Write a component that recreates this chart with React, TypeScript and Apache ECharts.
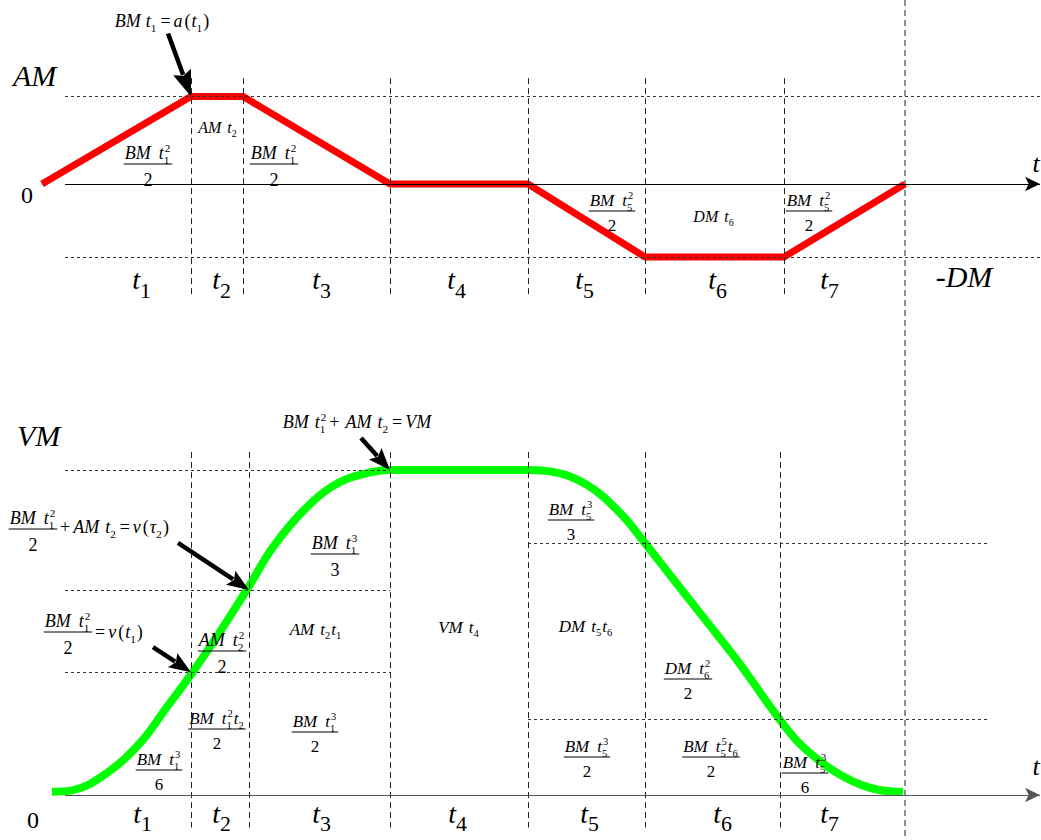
import React, { useEffect, useRef } from 'react';
import * as echarts from 'echarts';

const FONT = 'Liberation Serif';

// Jerk-limited motion profile. Time in ms, measured from the start of phase t1.
const accelTime = [0, 149, 201, 348, 486, 603, 742, 863];
// Acceleration levels, scaled so that the deceleration limit DM = 1
const accelValue = [0, 1.2, 1.2, 0, 0, -1, -1, 0];
const AM = 1.2;
const DM = 1.0;

// Velocity samples, normalised so that VM = 1
const velTime = [10, 31, 65, 98, 125, 150, 178, 206, 231, 265, 298, 331, 348, 486, 511, 545, 578, 603, 628, 661, 695, 738, 761, 795, 828, 861];
const velValue = [0.01, 0.015, 0.068, 0.16, 0.271, 0.375, 0.502, 0.637, 0.763, 0.886, 0.963, 0.994, 1, 1, 0.994, 0.954, 0.868, 0.775, 0.677, 0.548, 0.415, 0.231, 0.148, 0.068, 0.022, 0.009];
const VM = 1;

// Phase boundaries drawn as dashed guides in each panel
const accelBounds = [149, 201, 348, 486, 603, 742];
const velBounds = [149, 207, 348, 486, 603, 738];
const profileEnd = 863;
const axisStart = 23;
const axisEnd = 998;

// Velocity reached at the phase boundaries
const vAtT1 = 0.378;
const vAtTau2 = 0.631;
const vAtT5 = 0.775;
const vAtT6 = 0.234;

// Phase names under each panel
const phaseNames = ['1', '2', '3', '4', '5', '6', '7'];

type Tok = { s: string; it?: boolean; sub?: string; sup?: string; gl?: number; gr?: number };
const I = (s: string, o: Partial<Tok> = {}): Tok => ({ s, it: true, ...o });
const R = (s: string, o: Partial<Tok> = {}): Tok => ({ s, it: false, gl: 3, gr: 3, ...o });
// coefficient followed by a scripted t, e.g. "BM t₁²"
const K = (coef: string, sub: string, sup?: string, gap = 8): Tok[] => [I(coef), I('t', { gl: gap, sub, sup })];

let measureCtx: CanvasRenderingContext2D | null = null;
function textWidth(s: string, size: number, italic: boolean) {
  if (!measureCtx) measureCtx = document.createElement('canvas').getContext('2d');
  measureCtx!.font = `${italic ? 'italic ' : ''}${size}px "${FONT}"`;
  return measureCtx!.measureText(s).width;
}

function textEl(s: string, x: number, base: number, size: number, italic: boolean) {
  return {
    type: 'text',
    x,
    y: base - 0.33 * size,
    silent: true,
    z: 10,
    style: {
      text: s,
      fontSize: size,
      fontFamily: FONT,
      fontStyle: italic ? 'italic' : 'normal',
      fill: '#000',
      align: 'left',
      verticalAlign: 'middle',
      textAlign: 'left',
      textVerticalAlign: 'middle',
    },
  };
}

type RowOpts = { ratio?: number; drop?: number; anchor?: 'left' | 'center' };

function layoutRow(toks: Tok[], F: number, opts: RowOpts) {
  const S = F * (opts.ratio ?? 0.62);
  const drop = opts.drop ?? 0.25;
  const items: { s: string; dx: number; dy: number; size: number; it: boolean }[] = [];
  let x = 0;
  for (const t of toks) {
    x += t.gl ?? 0;
    items.push({ s: t.s, dx: x, dy: 0, size: F, it: !!t.it });
    x += textWidth(t.s, F, !!t.it);
    if (t.sub || t.sup) {
      let sw = 0;
      if (t.sup) {
        items.push({ s: t.sup, dx: x + 1, dy: -0.42 * F, size: S, it: false });
        sw = Math.max(sw, textWidth(t.sup, S, false) + 1);
      }
      if (t.sub) {
        items.push({ s: t.sub, dx: x, dy: drop * F, size: S, it: false });
        sw = Math.max(sw, textWidth(t.sub, S, false));
      }
      x += sw + 1;
    }
    x += t.gr ?? 0;
  }
  return { items, width: x };
}

function row(toks: Tok[], x: number, base: number, F: number, opts: RowOpts = {}) {
  const { items, width } = layoutRow(toks, F, opts);
  const x0 = (opts.anchor ?? 'center') === 'center' ? x - width / 2 : x;
  return items.map((it) => textEl(it.s, x0 + it.dx, base + it.dy, it.size, it.it));
}

function frac(cx: number, lineY: number, num: Tok[], den: string, F: number) {
  const { width } = layoutRow(num, F, {});
  const els: any[] = row(num, cx, lineY - 0.28 * F, F);
  els.push({
    type: 'line',
    silent: true,
    z: 10,
    shape: { x1: cx - width / 2 - 1, y1: lineY, x2: cx + width / 2 + 1, y2: lineY },
    style: { stroke: '#000', lineWidth: 1 },
  });
  els.push(...row([R(den, { gl: 0, gr: 0 })], cx, lineY + 1.2 * F, F));
  return els;
}

function arrow(tip: number[], back: number[], head = 22, half = 8.5) {
  const [x2, y2] = tip;
  const x1 = x2 + back[0];
  const y1 = y2 + back[1];
  const L = Math.hypot(x2 - x1, y2 - y1);
  const ux = (x2 - x1) / L;
  const uy = (y2 - y1) / L;
  const bx = x2 - ux * head;
  const by = y2 - uy * head;
  return [
    {
      type: 'line',
      silent: true,
      z: 11,
      shape: { x1, y1, x2: bx + ux * 3, y2: by + uy * 3 },
      style: { stroke: '#000', lineWidth: 4.5 },
    },
    {
      type: 'polygon',
      silent: true,
      z: 11,
      shape: {
        points: [
          [x2, y2],
          [bx - uy * half, by + ux * half],
          [bx + ux * 4, by + uy * 4],
          [bx + uy * half, by - ux * half],
        ],
      },
      style: { fill: '#000' },
    },
  ];
}

function buildOption(): any {
  const hDash = { type: [3, 3], color: '#333', width: 1 };
  const vDash = { type: [6, 4], color: '#222', width: 1 };
  const seg = (a: number[], b: number[], lineStyle: any) => [{ coord: a, lineStyle }, { coord: b }];

  const topGuides = [
    seg([axisStart, AM], [axisEnd, AM], hDash),
    seg([axisStart, -DM], [axisEnd, -DM], hDash),
    ...accelBounds.map((t) => seg([t, 1.45], [t, -1.52], vDash)),
  ];
  const bottomGuides = [
    ...[VM, vAtTau2, vAtT1].map((v) => seg([axisStart, v], [velBounds[2], v], hDash)),
    ...[vAtT5, vAtT6].map((v) => seg([velBounds[3], v], [axisEnd - 50, v], hDash)),
    ...velBounds.map((t) => seg([t, 1.055], [t, -0.1], vDash)),
  ];
  const markBase = {
    silent: true,
    symbol: 'none',
    label: { show: false },
    animation: false,
    emphasis: { disabled: true },
  };
  const axisMark = (color: string) => ({
    ...markBase,
    symbol: ['none', 'arrow'],
    symbolSize: [11, 15],
    lineStyle: { color, width: 1.2, type: 'solid' },
    data: [[{ coord: [axisStart, 0] }, { coord: [axisEnd, 0] }]],
  });

  return {
    animation: false,
    backgroundColor: '#fff',
    grid: [
      { left: 42, top: 38, width: 998, height: 292, containLabel: false, outerBoundsMode: 'none' },
      { left: 42, top: 405, width: 998, height: 455, containLabel: false, outerBoundsMode: 'none' },
    ],
    xAxis: [
      { type: 'value', gridIndex: 0, min: 0, max: axisEnd, show: false },
      { type: 'value', gridIndex: 1, min: 0, max: axisEnd, show: false },
    ],
    yAxis: [
      { type: 'value', gridIndex: 0, min: -2, max: 2, show: false },
      { type: 'value', gridIndex: 1, min: -0.2, max: 1.2, show: false },
    ],
    series: [
      {
        name: 'guides-a', type: 'line', xAxisIndex: 0, yAxisIndex: 0, data: [], clip: false, z: 1,
        markLine: { ...markBase, data: topGuides },
      },
      {
        name: 'axis-a', type: 'line', xAxisIndex: 0, yAxisIndex: 0, data: [], clip: false, z: 2,
        markLine: axisMark('#000'),
      },
      {
        name: 'acceleration', type: 'line', xAxisIndex: 0, yAxisIndex: 0, clip: false, z: 3,
        symbol: 'none', silent: true,
        lineStyle: { color: '#ff0000', width: 7, join: 'miter', cap: 'butt' },
        data: accelTime.map((t, i) => [t, accelValue[i]]),
      },
      {
        name: 'guides-v', type: 'line', xAxisIndex: 1, yAxisIndex: 1, data: [], clip: false, z: 1,
        markLine: { ...markBase, data: bottomGuides },
      },
      {
        name: 'axis-v', type: 'line', xAxisIndex: 1, yAxisIndex: 1, data: [], clip: false, z: 2,
        markLine: axisMark('#555'),
      },
      {
        name: 'velocity', type: 'line', xAxisIndex: 1, yAxisIndex: 1, clip: false, z: 3,
        symbol: 'none', silent: true, smooth: 0.4,
        lineStyle: { color: '#00ff00', width: 8, cap: 'butt' },
        data: velTime.map((t, i) => [t, velValue[i]]),
      },
    ],
  };
}

function buildGraphic(toPx: (g: number, x: number, y: number) => number[]) {
  const g: any[] = [];
  const add = (els: any[]) => g.push(...els);

  // full-height guide at the end of the profile
  const endX = toPx(0, profileEnd, 0)[0];
  g.push({
    type: 'line', silent: true, z: 1,
    shape: { x1: endX, y1: 0, x2: endX, y2: 840 },
    style: { stroke: '#222', lineWidth: 1, lineDash: [6, 4] },
  });

  // ---- acceleration panel ----
  add(row([I('AM')], 13, 85, 30, { anchor: 'left' }));
  add(row([I('-DM')], 964, 286, 30));
  add(row([R('0', { gl: 0, gr: 0 })], 27, 203, 24));
  add(row([I('t')], 1036, 172, 26));

  add(row([...K('BM', '1', undefined, 5), R('='), I('a'), R('(', { gl: 2, gr: 1 }), I('t', { sub: '1' }), R(')', { gl: 0, gr: 0 })], 162, 27, 18));
  add(frac(148, 164, K('BM', '1', '2'), '2', 18));
  add(row(K('AM', '2', undefined, 6), 218, 133, 16));
  add(frac(274, 164, K('BM', '1', '2'), '2', 18));
  add(frac(612, 211, K('BM', '5', '2'), '2', 17));
  add(row(K('DM', '6', undefined, 6), 714, 222, 16));
  add(frac(809, 211, K('BM', '5', '2'), '2', 17));

  const topCenters = [142, 222, 322, 457, 585, 718, 830];
  phaseNames.forEach((n, i) => add(row([I('t', { sub: n })], topCenters[i], 289, 28, { ratio: 0.78, drop: 0.32 })));

  add(arrow(toPx(0, accelTime[1], AM), [-23, -63], 26, 9.5));

  // ---- velocity panel ----
  add(row([I('VM')], 17, 445, 30, { anchor: 'left' }));
  add(row([R('0', { gl: 0, gr: 0 })], 33, 828, 24));
  add(row([I('t')], 1036, 775, 26));

  add(row([...K('BM', '1', '2', 6), R('+', { gl: 2, gr: 6 }), ...K('AM', '2', undefined, 6), R('='), I('VM')], 357, 428, 18));
  add(frac(33, 529, K('BM', '1', '2'), '2', 18));
  add(row([R('+', { gl: 2 }), ...K('AM', '2', undefined, 6), R('='), I('v'), R('(', { gl: 2, gr: 1 }), I('τ', { sub: '2' }), R(')', { gl: 0, gr: 0 })], 58, 533, 18, { anchor: 'left' }));
  add(frac(68, 632, K('BM', '1', '2'), '2', 18));
  add(row([R('='), I('v'), R('(', { gl: 2, gr: 1 }), I('t', { sub: '1' }), R(')', { gl: 0, gr: 0 })], 92, 638, 18, { anchor: 'left' }));
  add(frac(335, 554, K('BM', '1', '3'), '3', 18));
  add(row([...K('AM', '2', undefined, 6), I('t', { sub: '1' })], 316, 635, 17));
  add(frac(222, 651, K('AM', '2', '2'), '2', 18));
  add(row(K('VM', '4', undefined, 6), 459, 633, 17));
  add(frac(571, 520, K('BM', '5', '3'), '3', 17));
  add(row([...K('DM', '5', undefined, 6), I('t', { sub: '6' })], 586, 632, 17));
  add(frac(688, 679, K('DM', '6', '2'), '2', 17));
  add(frac(587, 757, K('BM', '5', '3'), '2', 17));
  add(frac(711, 757, [...K('BM', '5', '5'), I('t', { sub: '6' })], '2', 17));
  add(frac(805, 773, K('BM', '5', '3'), '6', 17));
  add(frac(217, 729, [...K('BM', '1', '2'), I('t', { sub: '2' })], '2', 17));
  add(frac(315, 732, K('BM', '1', '3'), '2', 17));
  add(frac(159, 770, K('BM', '1', '3'), '6', 17));

  const bottomCenters = [143, 222, 322, 458, 590, 723, 830];
  phaseNames.forEach((n, i) => add(row([I('t', { sub: n })], bottomCenters[i], 823, 28, { ratio: 0.78, drop: 0.28 })));

  add(arrow(toPx(1, velBounds[2], VM), [-29, -32]));
  add(arrow(toPx(1, velBounds[1], vAtTau2), [-71, -47]));
  add(arrow(toPx(1, velBounds[0], vAtT1), [-38, -25]));

  return g;
}

export default function App() {
  const ref = useRef<HTMLDivElement>(null);
  useEffect(() => {
    document.body.style.margin = '0';
    const chart = echarts.init(ref.current!, null, { renderer: 'svg' });
    chart.setOption(buildOption());
    const toPx = (grid: number, x: number, y: number) =>
      chart.convertToPixel({ gridIndex: grid }, [x, y]) as number[];
    chart.setOption({ graphic: { elements: buildGraphic(toPx) } });
    return () => chart.dispose();
  }, []);
  return <div ref={ref} style={{ width: 1041, height: 840 }} />;
}
